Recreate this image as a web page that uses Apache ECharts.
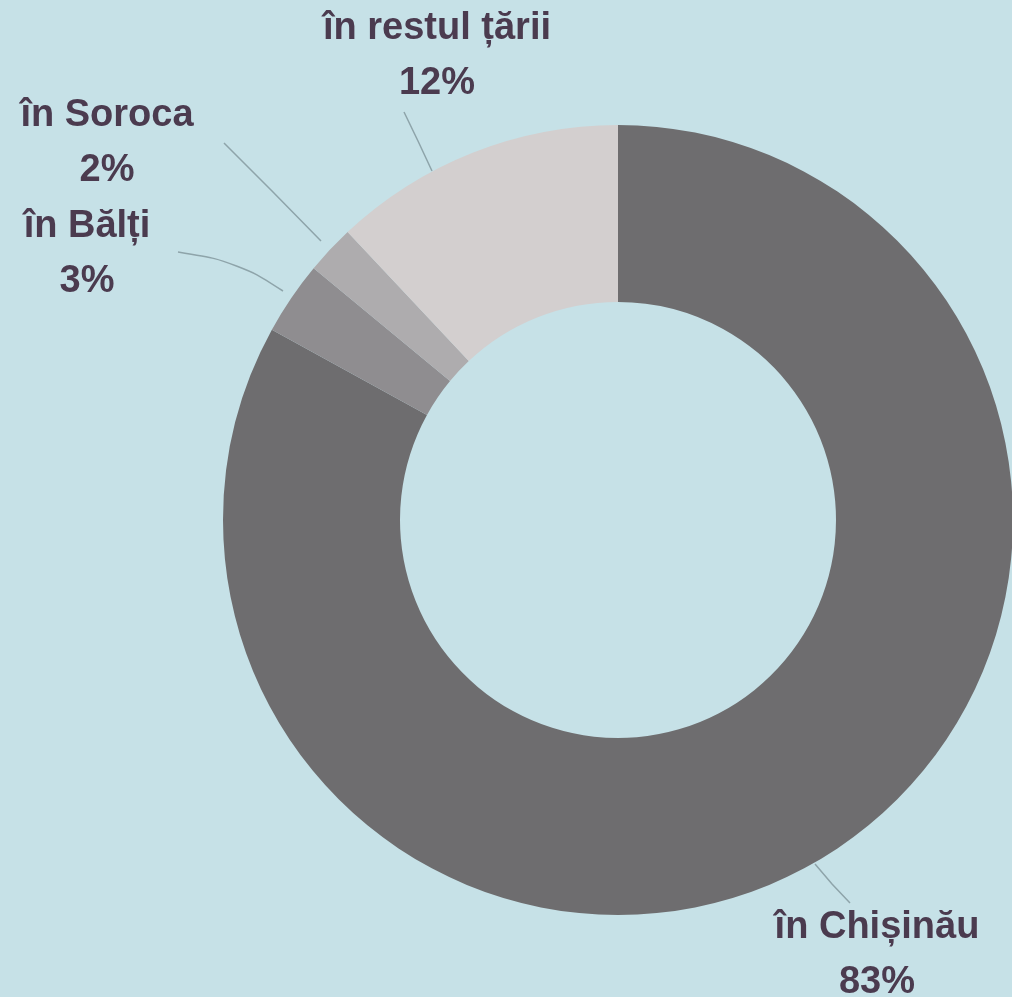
<!DOCTYPE html>
<html>
<head>
<meta charset="utf-8">
<script src="https://cdn.jsdelivr.net/npm/echarts@6/dist/echarts.min.js"></script>
<style>
  html, body { margin: 0; padding: 0; background: #c6e1e7; }
  #chart { width: 1012px; height: 997px; }
</style>
</head>
<body>
<div id="chart"></div>
<script>
const categories = ["în Chișinău", "în Bălți", "în Soroca", "în restul țării"];
const values = [83, 3, 2, 12];
const colors = ["#6e6d6f", "#8f8d90", "#aeacae", "#d3cfcf"];

// label block centres and leader line paths (slice end -> label end)
const labelPos = [
  [877, 955],
  [87, 254],
  [107, 143],
  [437, 56],
];
const linePaths = [
  [[815, 864], [832, 884], [850, 903]],
  [[283, 291], [238, 262], [178, 252]],
  [[321, 241], [272, 191], [224, 143]],
  [[432, 171], [418, 141], [404, 112]],
];

const myChart = echarts.init(document.getElementById("chart"));

const options = {
  backgroundColor: "#c6e1e7",
  animation: false,
  series: [
    {
      type: "pie",
      center: [618, 520],
      radius: [218, 395],
      startAngle: 90,
      clockwise: true,
      data: categories.map((name, i) => ({
        name: name,
        value: values[i],
        itemStyle: { color: colors[i] },
        labelLine: { smooth: i === 1 ? 0.4 : 0 },
      })),
      itemStyle: { borderWidth: 0 },
      label: {
        show: true,
        formatter: "{b}\n{c}%",
        color: "#4b3b4f",
        fontFamily: "Liberation Sans",
        fontWeight: "bold",
        fontSize: 38,
        lineHeight: 55,
        align: "center",
        overflow: "none",
        width: 320,
      },
      labelLine: {
        show: true,
        lineStyle: { color: "#8ea4aa", width: 1.5 },
      },
      labelLayout: (params) => ({
        x: labelPos[params.dataIndex][0],
        y: labelPos[params.dataIndex][1],
        align: "center",
        verticalAlign: "middle",
        labelLinePoints: linePaths[params.dataIndex],
      }),
      emphasis: { disabled: true },
    },
  ],
};

myChart.setOption(options);
</script>
</body>
</html>
